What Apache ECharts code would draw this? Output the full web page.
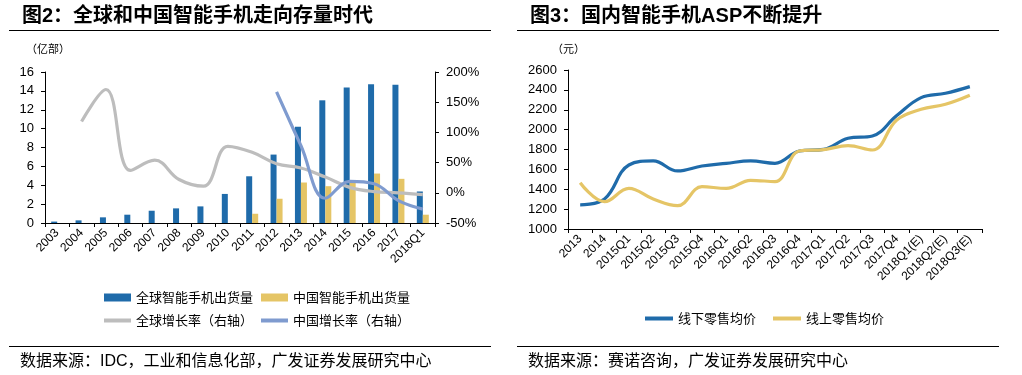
<!DOCTYPE html>
<html>
<head>
<meta charset="utf-8">
<script src="https://cdn.jsdelivr.net/npm/echarts@6/dist/echarts.min.js"></script>
<style>
html, body { margin: 0; padding: 0; background: #fff; }
#chart { width: 1022px; height: 375px; }
</style>
</head>
<body>
<div id="chart"></div>
<script>
// 图2 数据
var years = ['2003', '2004', '2005', '2006', '2007', '2008', '2009', '2010', '2011', '2012', '2013', '2014', '2015', '2016', '2017', '2018Q1']
var globalShip = [0.15, 0.28, 0.6, 0.88, 1.3, 1.55, 1.76, 3.08, 4.95, 7.25, 10.2, 13.0, 14.35, 14.7, 14.66, 3.34]
var chinaShip = [null, null, null, null, null, null, null, null, 0.98, 2.57, 4.29, 3.9, 4.34, 5.24, 4.68, 0.88]
var globalGrowth = [null, 118, 171, 37, 54, 22, 11, 77, 67, 48, 41, 26, 9, 2, 0, -3]
var chinaGrowth = [null, null, null, null, null, null, null, null, null, 167, 78, -9, 19, 15, -13, -27]

// 图3 数据
var quarters = ['2013', '2014', '2015Q1', '2015Q2', '2015Q3', '2015Q4', '2016Q1', '2016Q2', '2016Q3', '2016Q4', '2017Q1', '2017Q2', '2017Q3', '2017Q4', '2018Q1(E)', '2018Q2(E)', '2018Q3(E)']
var offlinePrice = [1242, 1302, 1644, 1685, 1584, 1634, 1661, 1685, 1661, 1785, 1802, 1913, 1936, 2141, 2322, 2366, 2433]
var onlinePrice = [1466, 1275, 1409, 1302, 1235, 1426, 1409, 1490, 1477, 1785, 1799, 1839, 1795, 2097, 2205, 2255, 2346]

var blue = '#1F6BAA'
var yellow = '#E5C566'
var grey = '#BDBDBD'
var lightBlue = '#7F9BCF'
var font = 'Liberation Sans, Arial, Noto Sans CJK SC'
var cjk = 'Noto Sans CJK SC'

var myChart = echarts.init(document.getElementById('chart'))

function axisCommon() {
    return {
        axisLine: {show: true, lineStyle: {color: '#000', width: 1}},
        axisTick: {show: true, length: 4, lineStyle: {color: '#000'}},
        splitLine: {show: false},
        axisLabel: {color: '#000', fontSize: 13, fontFamily: font, margin: 11}
    }
}

function catAxis(idx, data) {
    var a = axisCommon()
    a.type = 'category'
    a.gridIndex = idx
    a.data = data
    a.boundaryGap = true
    a.axisTick.alignWithLabel = false
    a.axisTick.interval = 0
    a.axisLabel = {color: '#000', fontSize: 12, fontFamily: font, rotate: 45, interval: 0, margin: 8}
    return a
}

function valAxis(idx, min, max, interval, pos, fmt) {
    var a = axisCommon()
    a.type = 'value'
    a.gridIndex = idx
    a.min = min
    a.max = max
    a.interval = interval
    a.position = pos
    a.axisLabel.formatter = fmt || function (v) { return String(v) }
    return a
}

function lineSeries(name, data, color, xi, yi) {
    return {
        name: name,
        type: 'line',
        xAxisIndex: xi,
        yAxisIndex: yi,
        data: data,
        smooth: 0.4,
        showSymbol: false,
        symbol: 'none',
        color: color,
        itemStyle: {color: color},
        lineStyle: {color: color, width: 3.2},
        animation: false
    }
}

function text(x, y, str, size, weight) {
    return {
        type: 'text',
        x: x,
        y: y,
        style: {
            text: str,
            fill: '#000',
            font: (weight || 'normal') + ' ' + size + 'px ' + font,
            textVerticalAlign: 'middle'
        }
    }
}

function hline(x1, x2, y) {
    return {
        type: 'line',
        shape: {x1: x1, y1: y, x2: x2, y2: y},
        style: {stroke: '#000', lineWidth: 1}
    }
}

var legendText = {color: '#000', fontSize: 13, fontFamily: cjk}

myChart.setOption({
    animation: false,
    grid: [
        {left: 45, top: 72, width: 390, height: 151},
        {left: 568, top: 70, width: 414, height: 159}
    ],
    xAxis: [catAxis(0, years), catAxis(1, quarters)],
    yAxis: [
        valAxis(0, 0, 16, 2, 'left'),
        valAxis(0, -50, 200, 50, 'right', '{value}%'),
        valAxis(1, 1000, 2600, 200, 'left')
    ],
    legend: [
        {
            data: [{name: '全球智能手机出货量', icon: 'rect'}, {name: '中国智能手机出货量', icon: 'rect'}],
            left: 99, top: 286, itemWidth: 27, itemHeight: 8, itemGap: 8,
            textStyle: legendText, selectedMode: false
        },
        {
            data: [{name: '全球增长率（右轴）', icon: 'rect'}, {name: '中国增长率（右轴）', icon: 'rect'}],
            left: 99, top: 309, itemWidth: 27, itemHeight: 4, itemGap: 8,
            textStyle: legendText, selectedMode: false
        },
        {
            data: [{name: '线下零售均价', icon: 'rect'}, {name: '线上零售均价', icon: 'rect'}],
            left: 640, top: 307, itemWidth: 28, itemHeight: 4, itemGap: 17,
            textStyle: legendText, selectedMode: false
        }
    ],
    series: [
        {
            name: '全球智能手机出货量',
            type: 'bar',
            xAxisIndex: 0,
            yAxisIndex: 0,
            data: globalShip,
            barWidth: 6,
            barGap: '0%',
            itemStyle: {color: blue}
        },
        {
            name: '中国智能手机出货量',
            type: 'bar',
            xAxisIndex: 0,
            yAxisIndex: 0,
            data: chinaShip,
            barWidth: 6,
            barGap: '0%',
            itemStyle: {color: yellow}
        },
        lineSeries('全球增长率（右轴）', globalGrowth, grey, 0, 1),
        lineSeries('中国增长率（右轴）', chinaGrowth, lightBlue, 0, 1),
        lineSeries('线下零售均价', offlinePrice, blue, 1, 2),
        lineSeries('线上零售均价', onlinePrice, yellow, 1, 2)
    ],
    graphic: [
        text(22, 16, '图2：全球和中国智能手机走向存量时代', 20, 'bold'),
        text(530, 16, '图3：国内智能手机ASP不断提升', 20, 'bold'),
        hline(9, 491, 30.5),
        hline(517, 999, 30.5),
        text(26, 50, '（亿部）', 11),
        text(552, 50, '（元）', 11),
        hline(9, 491, 346.5),
        hline(517, 999, 346.5),
        text(20, 362, '数据来源：IDC，工业和信息化部，广发证券发展研究中心', 16),
        text(528, 362, '数据来源：赛诺咨询，广发证券发展研究中心', 16)
    ]
})
</script>
</body>
</html>
